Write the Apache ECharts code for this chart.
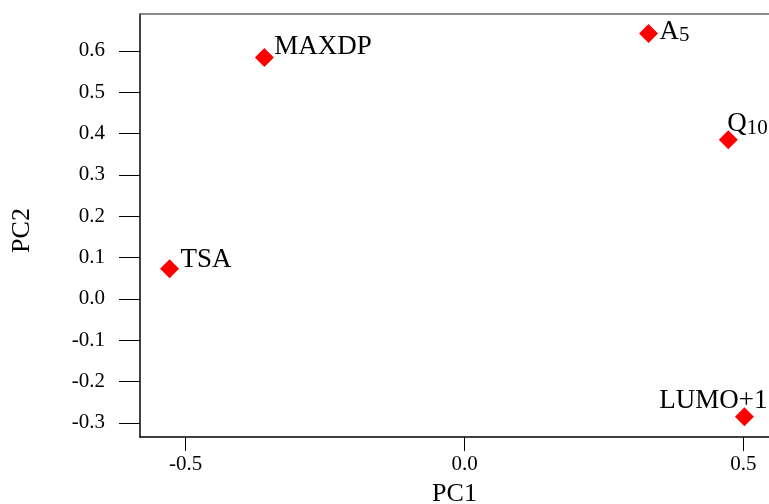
<!DOCTYPE html>
<html>
<head>
<meta charset="utf-8">
<script src="https://cdn.jsdelivr.net/npm/echarts@6/dist/echarts.min.js"></script>
<style>
  html, body { margin: 0; padding: 0; background: #ffffff; }
  #chart { width: 769px; height: 504px; }
</style>
</head>
<body>
<div id="chart"></div>
<script>
// loadings
var names = ["MAXDP", "A5", "Q10", "TSA", "LUMO+1"];
var pc1 = [-0.359, 0.330, 0.473, -0.529, 0.502];
var pc2 = [0.584, 0.642, 0.385, 0.073, -0.285];
var xTicks = [-0.5, 0.0, 0.5];
var yTicks = [-0.3, -0.2, -0.1, 0.0, 0.1, 0.2, 0.3, 0.4, 0.5, 0.6];

var FONT = "Liberation Serif";

// label text and where it sits next to its diamond
var labelText = {
  "MAXDP": "{b|MAXDP}",
  "A5": "{b|A}{s|5}",
  "Q10": "{b|Q}{s|10}",
  "TSA": "{b|TSA}",
  "LUMO+1": "{b|LUMO+1}"
};
var labelPos = {
  "MAXDP": { align: "left", offset: [10, -11] },
  "A5": { align: "left", offset: [11, -2] },
  "Q10": { align: "left", offset: [-1, -16] },
  "TSA": { align: "left", offset: [11, -9] },
  "LUMO+1": { align: "right", offset: [23, -16] }
};

var points = names.map(function (n, i) {
  return {
    name: n,
    value: [pc1[i], pc2[i]],
    label: {
      align: labelPos[n].align,
      offset: labelPos[n].offset
    }
  };
});

var chart = echarts.init(document.getElementById("chart"));

chart.setOption({
  animation: false,
  grid: { left: 140, right: 0, top: 14, bottom: 67, containLabel: false, outerBoundsMode: "none" },
  xAxis: [
    {
      type: "value",
      min: -0.582,
      max: 0.546,
      name: "PC1",
      nameLocation: "middle",
      nameGap: 44,
      nameTextStyle: { fontFamily: FONT, fontSize: 26, color: "#000" },
      axisLine: { show: true, onZero: false, lineStyle: { color: "#000", width: 1.5 } },
      axisTick: { show: true, length: 14, customValues: xTicks, lineStyle: { color: "#000" } },
      axisLabel: {
        customValues: xTicks,
        margin: 17,
        fontFamily: FONT, fontSize: 21, color: "#000",
        formatter: function (v) { return v.toFixed(1); }
      },
      splitLine: { show: false }
    },
    {
      type: "value",
      position: "top",
      min: -0.582,
      max: 0.546,
      axisLine: { show: true, onZero: false, lineStyle: { color: "#666", width: 1.5 } },
      axisTick: { show: false },
      axisLabel: { show: false },
      splitLine: { show: false }
    }
  ],
  yAxis: {
    type: "value",
    min: -0.334,
    max: 0.689,
    name: "PC2",
    nameLocation: "middle",
    nameGap: 105,
    nameRotate: 90,
    nameTextStyle: { fontFamily: FONT, fontSize: 26, color: "#000", padding: [0, 0, 0, -10] },
    axisLine: { show: true, onZero: false, lineStyle: { color: "#000", width: 1.5 } },
    axisTick: { show: true, length: 21, customValues: yTicks, lineStyle: { color: "#000" } },
    axisLabel: {
      customValues: yTicks,
      margin: 35,
      fontFamily: FONT, fontSize: 21, color: "#000",
      formatter: function (v) { return v.toFixed(1); }
    },
    splitLine: { show: false }
  },
  series: [
    {
      type: "scatter",
      symbol: "diamond",
      symbolSize: 19,
      itemStyle: { color: "#ff0000", opacity: 1 },
      data: points,
      label: {
        show: true,
        position: "inside",
        verticalAlign: "middle",
        formatter: function (p) { return labelText[p.name]; },
        rich: {
          b: { fontFamily: FONT, fontSize: 27, color: "#000", lineHeight: 30 },
          s: { fontFamily: FONT, fontSize: 21, color: "#000", lineHeight: 16, verticalAlign: "bottom" }
        }
      }
    }
  ]
});
</script>
</body>
</html>
